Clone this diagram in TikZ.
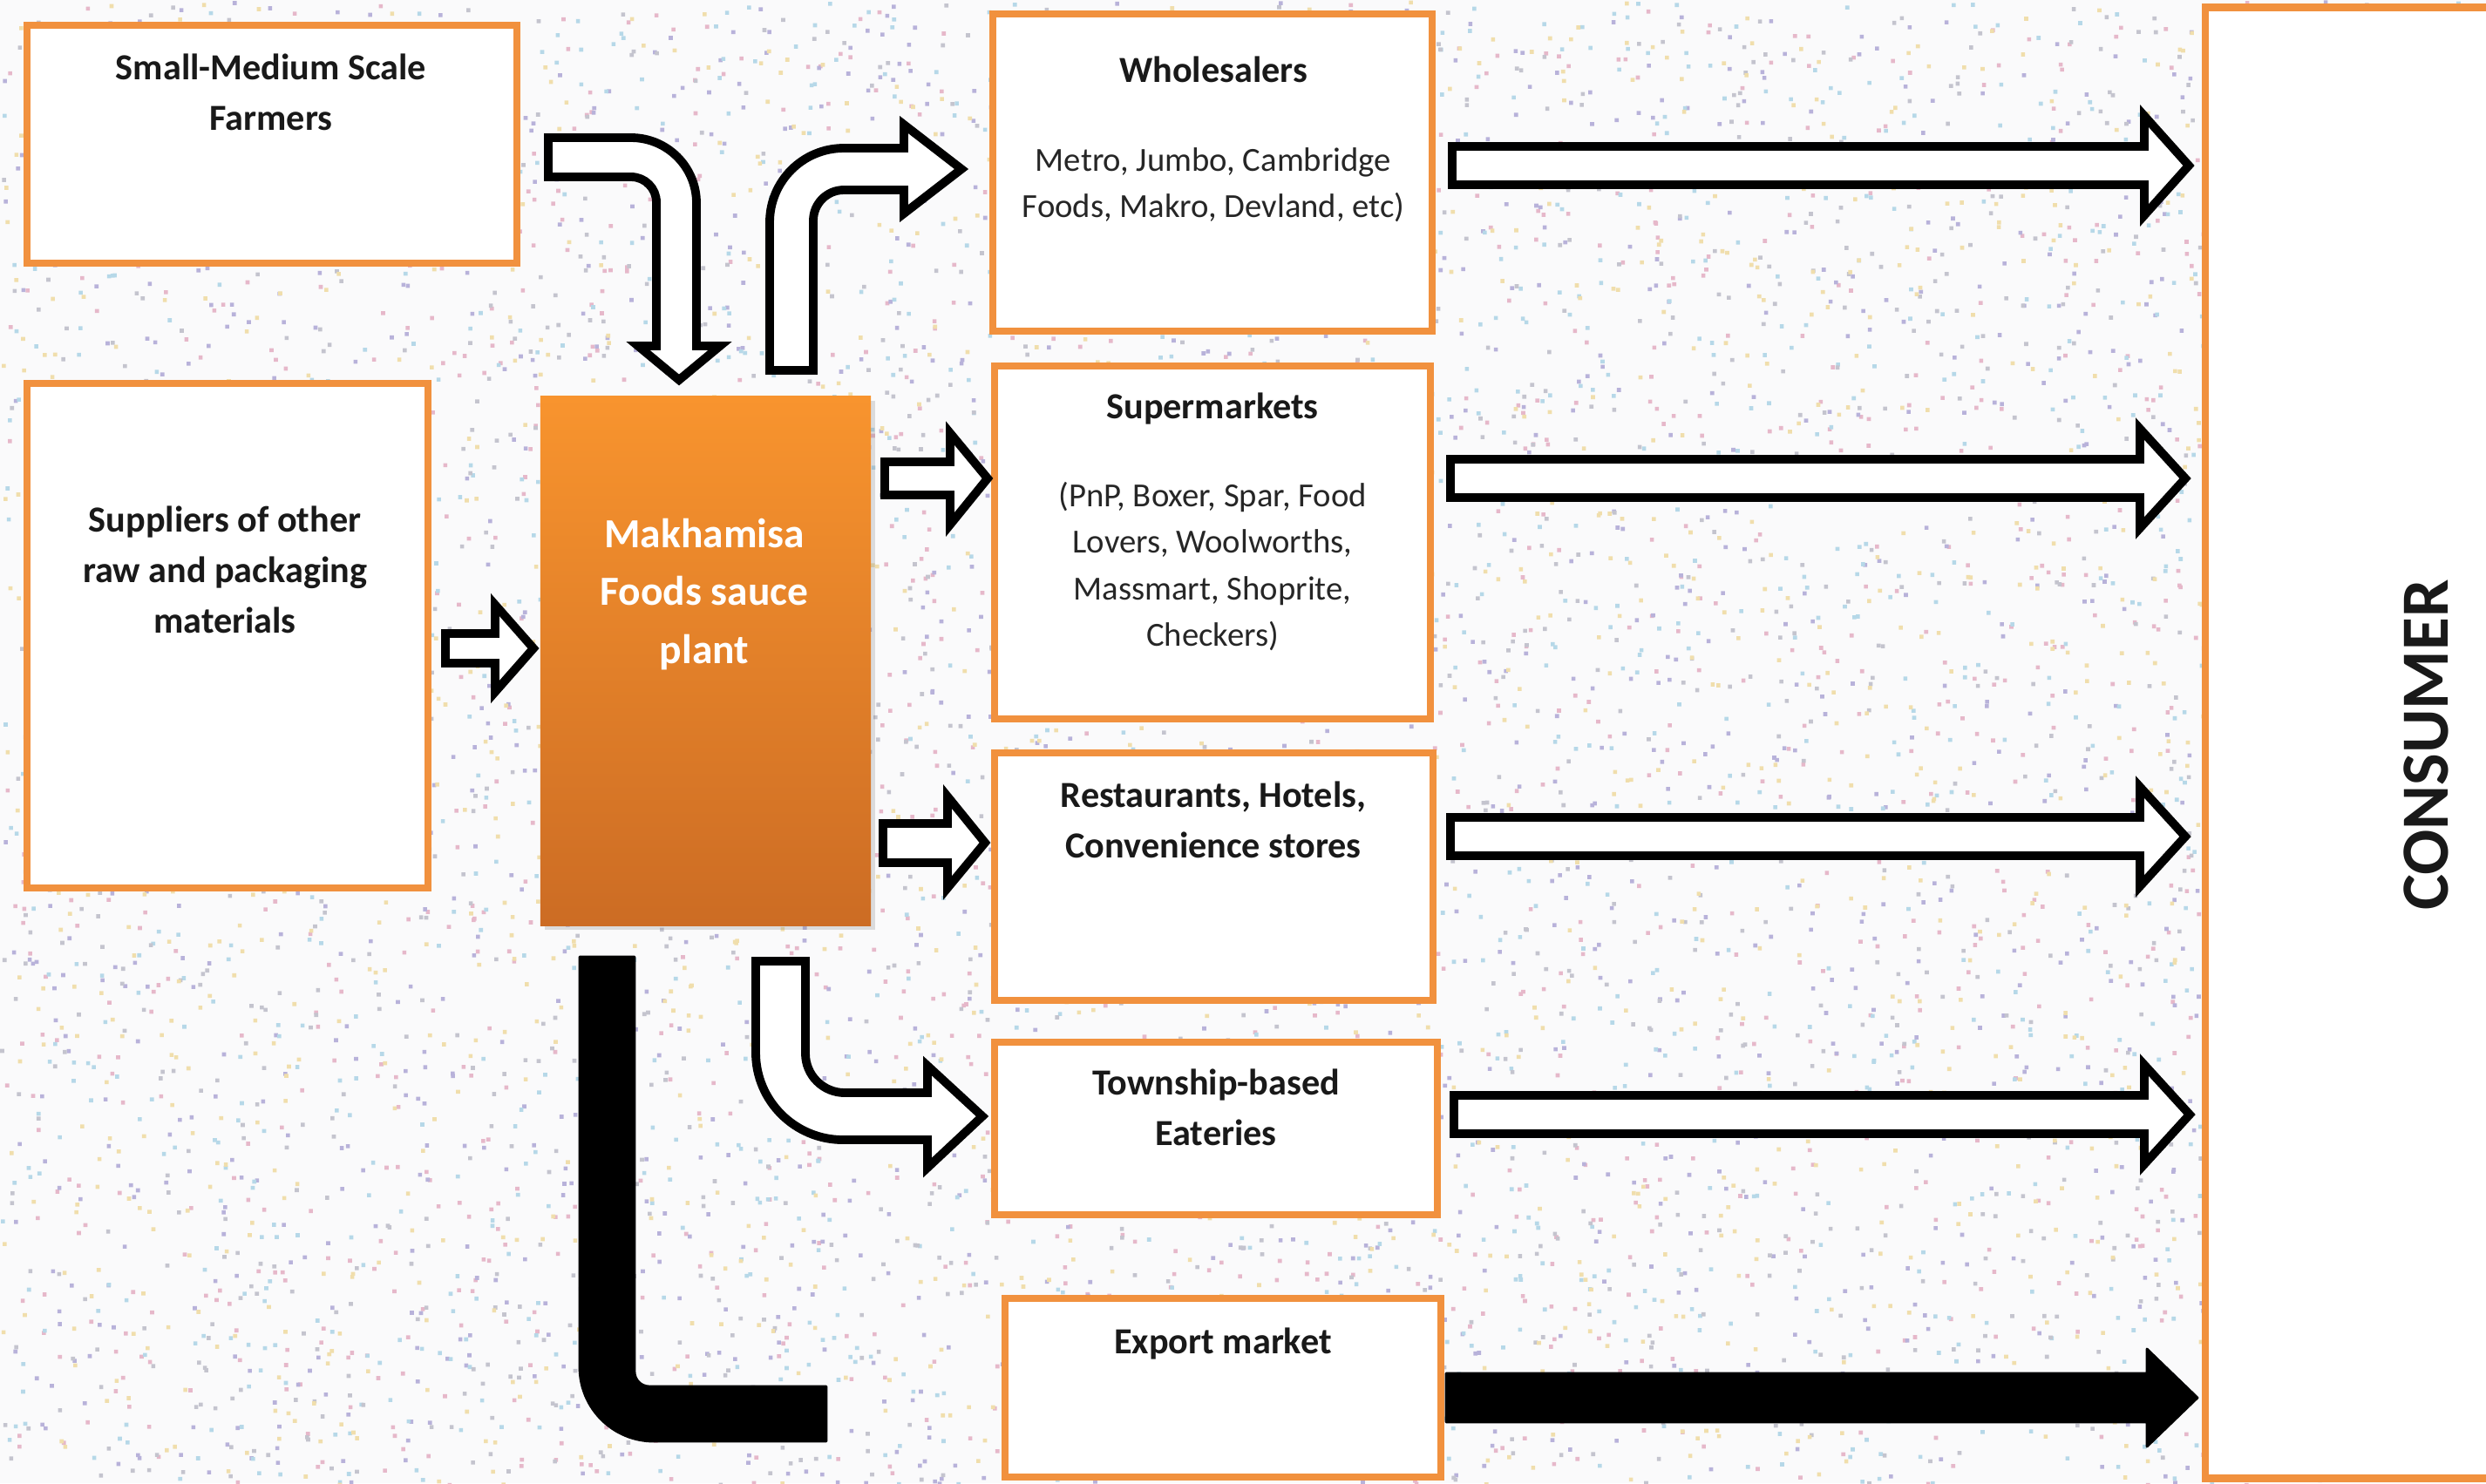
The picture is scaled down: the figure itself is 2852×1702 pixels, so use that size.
\documentclass[tikz,border=0pt]{standalone}
\usepackage{fontspec}
\setmainfont{Carlito}
\usetikzlibrary{shadows}

\definecolor{boxorange}{RGB}{241,145,62}
\definecolor{plantTop}{RGB}{248,148,46}
\definecolor{plantBot}{RGB}{204,108,36}
\definecolor{bgbase}{RGB}{250,250,251}
\definecolor{dotA}{RGB}{230,184,202}
\definecolor{dotB}{RGB}{184,178,218}
\definecolor{dotC}{RGB}{182,216,232}
\definecolor{dotD}{RGB}{196,196,206}
\definecolor{dotE}{RGB}{240,222,172}

\tikzset{
  box/.style={draw=boxorange, line width=2.3pt, fill=white, inner sep=0pt, outer sep=0pt},
  title/.style={align=center, font=\fontsize{12}{16.5}\selectfont\bfseries, text=black!90, inner sep=0pt},
  detail/.style={align=center, font=\fontsize{11}{15.2}\selectfont, text=black!85, inner sep=0pt},
  hollow/.style={draw=black, fill=white, line width=2.8pt, line join=miter, miter limit=4},
  blackarrow/.style={fill=black, draw=black, line width=0.8pt, line join=round},
}

\begin{document}
\begin{tikzpicture}[x=0.01cm, y=-0.01cm]
\useasboundingbox (0,0) rectangle (2852,1702);

% speckled paper background
\fill[bgbase] (0,0) rectangle (2852,1702);
\pgfmathsetseed{2024}
\foreach \c in {dotA,dotB,dotC,dotD,dotE}{
  \foreach \k in {1,...,7}{
    \fill[\c] \foreach \i in {1,...,250}{ ({rnd*2852},{rnd*1702}) rectangle ++(4.6,4.6) };
  }
}

% boxes
\node[box, minimum width=5.62cm, minimum height=2.73cm] (farm) at (312,165.5) {};
\node[box, minimum width=4.60cm, minimum height=5.79cm] (supp) at (261,729.5) {};
\node[draw=none, top color=plantTop, bottom color=plantBot, inner sep=0pt, outer sep=0pt,
      minimum width=3.79cm, minimum height=6.07cm,
      drop shadow={opacity=0.25, shadow xshift=1.5pt, shadow yshift=-1.5pt}] (plant) at (809.5,758.5) {};
\node[box, minimum width=5.04cm, minimum height=3.64cm] (whole) at (1391,198) {};
\node[box, minimum width=5.00cm, minimum height=4.05cm] (super) at (1391,622.5) {};
\node[box, minimum width=5.03cm, minimum height=2.84cm] (resto) at (1392.5,1006) {};
\node[box, minimum width=5.08cm, minimum height=1.98cm] (town) at (1395,1295) {};
\node[box, minimum width=5.00cm, minimum height=2.05cm] (export) at (1403,1592.5) {};
\node[box, minimum width=3.40cm, minimum height=16.87cm] (cons) at (2700,852.5) {};

% farmers -> plant (bent down)
\draw[hollow] (629,158) -- (724,158) .. controls (765.4,158) and (799,191.6) .. (799,233)
  -- (799,397) -- (826,397) -- (779,436) -- (732,397) -- (753,397) -- (753,232)
  .. controls (753,216) and (740,203) .. (724,203) -- (629,203) -- cycle;

% plant -> wholesalers (bent up and right)
\draw[hollow] (883,425) -- (883,255) .. controls (883,208) and (921,170) .. (968,170)
  -- (1037,170) -- (1037,143) -- (1103,194) -- (1037,245) -- (1037,218) -- (968,218)
  .. controls (948.7,218) and (933,233.7) .. (933,253) -- (933,425) -- cycle;

% suppliers -> plant
\draw[hollow] (511,727) -- (568,727) -- (568,694) -- (612,744) -- (568,794) -- (568,761) -- (511,761) -- cycle;

% plant -> supermarkets
\draw[hollow] (1015,530) -- (1090,530) -- (1090,497) -- (1133,549) -- (1090,602) -- (1090,568) -- (1015,568) -- cycle;

% plant -> restaurants
\draw[hollow] (1013,945) -- (1087,945) -- (1087,914) -- (1130,967) -- (1087,1019) -- (1087,990) -- (1013,990) -- cycle;

% plant -> township eateries (bent down and right)
\draw[hollow] (867,1103) -- (924,1103) -- (924,1209) .. controls (924,1233.8) and (944.2,1254) .. (969,1254)
  -- (1064,1254) -- (1064,1223) -- (1127,1281) -- (1064,1340) -- (1064,1308) -- (967,1308)
  .. controls (911.8,1308) and (867,1263.2) .. (867,1208) -- cycle;

% plant -> export (solid bar)
\filldraw[blackarrow] (665,1098) -- (728,1098) -- (728,1574) .. controls (728,1583.4) and (735.6,1591) .. (745,1591)
  -- (948,1591) -- (948,1654) -- (750,1654) .. controls (703.1,1654) and (665,1615.9) .. (665,1569) -- cycle;

% channels -> consumer
\draw[hollow] (1666,168) -- (2460,168) -- (2460,133) -- (2511,190) -- (2460,247) -- (2460,212) -- (1666,212) -- cycle;
\draw[hollow] (1664,527) -- (2455,527) -- (2455,492) -- (2507,549) -- (2455,606) -- (2455,571) -- (1664,571) -- cycle;
\draw[hollow] (1664,938) -- (2455,938) -- (2455,903) -- (2507,960) -- (2455,1017) -- (2455,982) -- (1664,982) -- cycle;
\draw[hollow] (1668,1257) -- (2460,1257) -- (2460,1222) -- (2512,1279) -- (2460,1336) -- (2460,1301) -- (1668,1301) -- cycle;
\filldraw[blackarrow] (1659,1576) -- (2463,1576) -- (2463,1548) -- (2521,1604) -- (2463,1660) -- (2463,1632) -- (1659,1632) -- cycle;

% texts
\node[title] (farmT) at (311,106) {Small-Medium Scale\\Farmers};
\node[title] (suppT) at (258,654) {Suppliers of other\\raw and packaging\\materials};
\node[align=center, font=\fontsize{13.5}{18.8}\selectfont\bfseries, text=white, inner sep=0pt] (plantT) at (808,682) {Makhamisa\\Foods sauce\\plant};
\node[title] (wholeT) at (1392,80) {Wholesalers};
\node[detail] (wholeD) at (1392,212) {Metro, Jumbo, Cambridge\\Foods, Makro, Devland, etc)};
\node[title] (superT) at (1391,469) {Supermarkets};
\node[detail] (superD) at (1391,650) {(PnP, Boxer, Spar, Food\\Lovers, Woolworths,\\Massmart, Shoprite,\\Checkers)};
\node[title] (restoT) at (1392,941) {Restaurants, Hotels,\\Convenience stores};
\node[title] (townT) at (1395,1271) {Township-based\\Eateries};
\node[title] (exportT) at (1403,1542) {Export market};
\node[rotate=90, font=\fontsize{22}{26}\selectfont\bfseries, text=black!90, inner sep=0pt] (consT) at (2783,855) {CONSUMER};
\end{tikzpicture}
\end{document}
